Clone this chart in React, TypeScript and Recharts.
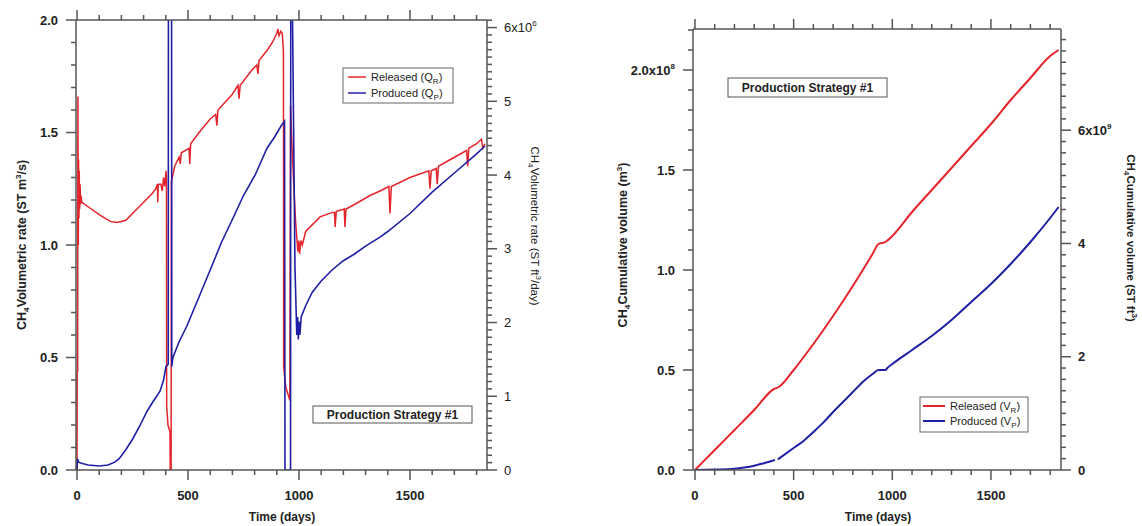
import React from "react";
import { LineChart, Line, XAxis, YAxis } from "recharts";

// ---- left panel: volumetric rate (m^3/s) ----
const rateReleased: [number, number][] = [
  [0, 0], [1, 0.44], [3, 0.44], [4, 1.66], [6, 1.0], [7, 1.38], [9, 1.12], [10, 1.33], [12, 1.16],
  [14, 1.27], [16, 1.18], [18, 1.22], [22, 1.19], [50, 1.17], [100, 1.135], [150, 1.105], [180, 1.1],
  [220, 1.11], [260, 1.15], [300, 1.19], [340, 1.23], [355, 1.25], [362, 1.27], [364, 1.19], [366, 1.27],
  [378, 1.27], [384, 1.24], [390, 1.3], [395, 1.26], [401, 1.33], [403, 1.3], [404, 0.28], [410, 0.2],
  [419, 0.17], [420, 0], [424, 0], [425, 1.28], [440, 1.35], [460, 1.39], [465, 1.36], [470, 1.41],
  [505, 1.43], [508, 1.36], [512, 1.45], [550, 1.5], [600, 1.56], [625, 1.58], [630, 1.53], [635, 1.6],
  [700, 1.67], [725, 1.71], [730, 1.65], [735, 1.71], [790, 1.78], [810, 1.8], [815, 1.76], [820, 1.82],
  [860, 1.87], [880, 1.9], [900, 1.94], [905, 1.96], [910, 1.93], [918, 1.95], [925, 1.94], [930, 1.86],
  [931, 0.46], [940, 0.37], [959, 0.31], [962, 1.62], [970, 1.4], [985, 1.1], [995, 0.97], [999, 1.02],
  [1003, 0.96], [1008, 1.02], [1015, 1.0], [1030, 1.06], [1095, 1.125], [1150, 1.145], [1160, 1.145],
  [1163, 1.08], [1168, 1.15], [1204, 1.16], [1207, 1.08], [1212, 1.16], [1250, 1.18], [1320, 1.22],
  [1365, 1.24], [1405, 1.26], [1410, 1.14], [1416, 1.26], [1500, 1.3], [1585, 1.33], [1590, 1.25],
  [1596, 1.33], [1618, 1.34], [1623, 1.27], [1628, 1.35], [1700, 1.39], [1755, 1.42], [1760, 1.35],
  [1765, 1.43], [1800, 1.45], [1822, 1.47], [1828, 1.43], [1838, 1.45],
];

const rateProduced: [number, number][] = [
  [0, 0], [2, 0.05], [8, 0.035], [20, 0.03], [50, 0.022], [100, 0.018], [140, 0.022], [170, 0.035],
  [190, 0.05], [220, 0.09], [252, 0.14], [285, 0.2], [315, 0.26], [340, 0.3], [374, 0.35], [390, 0.4],
  [401, 0.46], [411, 0.47], [412, 2.3], [426, 2.3], [427, 0.46], [432, 0.5], [460, 0.57], [495, 0.64],
  [550, 0.77], [613, 0.92], [650, 1.01], [703, 1.12], [750, 1.22], [802, 1.31], [856, 1.43], [890, 1.48],
  [920, 1.53], [935, 1.55], [937, 0], [962, 0], [963, 2.3], [968, 2.3], [971, 2.0], [982, 0.9],
  [990, 0.6], [994, 0.68], [997, 0.58], [1000, 0.66], [1004, 0.6], [1010, 0.68], [1030, 0.73],
  [1060, 0.79], [1100, 0.84], [1150, 0.89], [1200, 0.93], [1250, 0.96], [1300, 0.995], [1365, 1.035],
  [1400, 1.06], [1500, 1.14], [1600, 1.235], [1700, 1.32], [1800, 1.405], [1838, 1.44],
];

// ---- right panel: cumulative volume (x10^8 m^3) ----
const cumReleased: [number, number][] = [
  [0, 0], [100, 0.1], [200, 0.2], [300, 0.3], [400, 0.405], [425, 0.415], [500, 0.5], [600, 0.63],
  [700, 0.77], [800, 0.92], [900, 1.08], [930, 1.13], [965, 1.14], [1000, 1.17], [1100, 1.29],
  [1200, 1.4], [1300, 1.51], [1400, 1.62], [1500, 1.73], [1600, 1.85], [1700, 1.96], [1800, 2.07],
  [1843, 2.1],
];

const cumProduced: [number, number | null][] = [
  [0, 0], [100, 0.002], [200, 0.006], [250, 0.012], [300, 0.021], [350, 0.034], [405, 0.05],
  [412, null], [420, 0.053], [500, 0.11], [550, 0.145], [600, 0.19], [650, 0.237], [700, 0.29],
  [750, 0.34], [800, 0.39], [850, 0.44], [900, 0.48], [930, 0.5], [965, 0.5], [975, 0.51],
  [1000, 0.53], [1100, 0.6], [1200, 0.67], [1300, 0.75], [1400, 0.84], [1500, 0.93], [1600, 1.03],
  [1700, 1.14], [1800, 1.26], [1843, 1.315],
];

const timeMajor = [0, 500, 1000, 1500];
const rateMajor = [0, 0.5, 1.0, 1.5, 2.0];
const rateFtMajor = [0, 1, 2, 3, 4, 5, 6];
const cumMajor = [0, 0.5, 1.0, 1.5, 2.0];
const cumFtMajor = [0, 2, 4, 6];

const FONT = "'Liberation Sans', Arial, Helvetica, sans-serif";
const AXIS = "#555";
const RED = "#e4242b";
const BLUE = "#1f1fa6";

const steps = (a: number, b: number, s: number) => {
  const out: number[] = [];
  for (let i = 0; a + i * s <= b + 1e-9; i++) out.push(+(a + i * s).toFixed(4));
  return out;
};

const toRows = (arr: [number, number | null][]) => arr.map(([t, v]) => ({ t, v }));

const sup = (base: string, p: string) => (
  <>
    {base}
    <tspan dy={-6} fontSize={8}>{p}</tspan>
  </>
);

type Side = "left" | "right" | "top" | "bottom";
// tickSize 0 / tickMargin 0 -> (x, y) is the point on the axis; mark drawn as a thin filled rect
const makeTick =
  (side: Side, majors: number[], fmt?: (v: number) => React.ReactNode, bold = true) =>
  (p: any) => {
    const ax = Number(p.x);
    const ay = Number(p.y);
    const v = Number(p.payload.value);
    const major = majors.some((m) => Math.abs(m - v) < 1e-6);
    const len = major ? 10 : 5;
    const w = 1.5;
    let rx = ax, ry = ay, rw = w, rh = w;
    if (side === "left") { rx = ax - len; ry = ay - w / 2; rw = len; }
    if (side === "right") { rx = ax; ry = ay - w / 2; rw = len; }
    if (side === "bottom") { rx = ax - w / 2; ry = ay; rh = len; }
    if (side === "top") { rx = ax - w / 2; ry = ay - len; rh = len; }
    let tx = ax, ty = ay, anchor = "middle";
    if (side === "left") { tx = ax - 18; ty = ay + 4.5; anchor = "end"; }
    if (side === "right") { tx = ax + 17; ty = ay + 4.5; anchor = "start"; }
    if (side === "bottom") { ty = ay + 30; }
    const label = major && fmt ? fmt(v) : null;
    return (
      <g>
        <rect x={rx} y={ry} width={rw} height={rh} fill={AXIS} stroke="none" />
        {label != null && (
          <text x={tx} y={ty} textAnchor={anchor as any} fontFamily={FONT} fontSize={13}
            fontWeight={bold ? 700 : 400} fill="#222" stroke="none">
            {label}
          </text>
        )}
      </g>
    );
  };

const axisLine = { stroke: AXIS, strokeWidth: 1.5 };

const LeftPanel = () => (
  <LineChart width={560} height={526} margin={{ top: 10, right: 0, bottom: 0, left: 0 }}
    style={{ position: "absolute", left: 0, top: 0 }}>
    <XAxis xAxisId="b" dataKey="t" type="number" domain={[-4.5, 1847]} allowDataOverflow
      ticks={steps(0, 1800, 100)} interval={0} height={56} tickSize={0} tickMargin={0}
      axisLine={axisLine} tickLine={false} tick={makeTick("bottom", timeMajor, (v) => String(v))} />
    <XAxis xAxisId="t" orientation="top" dataKey="t" type="number" domain={[-4.5, 1847]} allowDataOverflow
      ticks={steps(0, 1800, 100)} interval={0} height={10} tickSize={0} tickMargin={0}
      axisLine={axisLine} tickLine={false} tick={makeTick("top", timeMajor)} />
    <YAxis yAxisId="l" type="number" domain={[0, 2]} allowDataOverflow ticks={steps(0, 2, 0.1)}
      interval={0} width={76} tickSize={0} tickMargin={0} axisLine={axisLine} tickLine={false}
      tick={makeTick("left", rateMajor, (v) => v.toFixed(1))} />
    <YAxis yAxisId="r" orientation="right" type="number" domain={[0, 6.1025]} allowDataOverflow
      ticks={steps(0, 6.1, 0.1)} interval={0} width={73} tickSize={0} tickMargin={0}
      axisLine={axisLine} tickLine={false}
      tick={makeTick("right", rateFtMajor, (v) => (v === 6 ? sup("6x10", "6") : String(v)), false)} />
    <Line xAxisId="b" yAxisId="l" data={toRows(rateReleased)} dataKey="v" type="linear" stroke={RED}
      strokeWidth={1.5} dot={false} isAnimationActive={false} />
    <Line xAxisId="b" yAxisId="l" data={toRows(rateProduced)} dataKey="v" type="linear" stroke={BLUE}
      strokeWidth={1.6} dot={false} isAnimationActive={false} />
  </LineChart>
);

const RightPanel = () => (
  <LineChart width={562} height={526} margin={{ top: 19, right: 0, bottom: 0, left: 0 }}
    style={{ position: "absolute", left: 580, top: 0 }}>
    <XAxis xAxisId="b" dataKey="t" type="number" domain={[-10, 1855]} allowDataOverflow
      ticks={steps(0, 1800, 100)} interval={0} height={56} tickSize={0} tickMargin={0}
      axisLine={axisLine} tickLine={false} tick={makeTick("bottom", timeMajor, (v) => String(v))} />
    <XAxis xAxisId="t" orientation="top" dataKey="t" type="number" domain={[-10, 1855]} allowDataOverflow
      ticks={steps(0, 1800, 100)} interval={0} height={10} tickSize={0} tickMargin={0}
      axisLine={axisLine} tickLine={false} tick={makeTick("top", timeMajor)} />
    <YAxis yAxisId="l" type="number" domain={[0, 2.205]} allowDataOverflow ticks={steps(0, 2.2, 0.1)}
      interval={0} width={113} tickSize={0} tickMargin={0} axisLine={axisLine} tickLine={false}
      tick={makeTick("left", cumMajor, (v) => (v === 2 ? sup("2.0x10", "8") : v.toFixed(1)))} />
    <YAxis yAxisId="r" orientation="right" type="number" domain={[0, 7.787]} allowDataOverflow
      ticks={steps(0, 7.6, 0.2)} interval={0} width={81} tickSize={0} tickMargin={0}
      axisLine={axisLine} tickLine={false}
      tick={makeTick("right", cumFtMajor, (v) => (v === 6 ? sup("6x10", "9") : String(v)))} />
    <Line xAxisId="b" yAxisId="l" data={toRows(cumReleased)} dataKey="v" type="monotone" stroke={RED}
      strokeWidth={2} dot={false} isAnimationActive={false} />
    <Line xAxisId="b" yAxisId="l" data={toRows(cumProduced)} dataKey="v" type="monotone" stroke={BLUE}
      strokeWidth={2} dot={false} connectNulls={false} isAnimationActive={false} />
  </LineChart>
);

const Sub = ({ s }: { s: string }) => (
  <>
    <tspan dy={3} fontSize={8}>{s}</tspan>
    <tspan dy={-3} fontSize={1}> </tspan>
  </>
);

// titles, legends and annotation boxes; drawn underneath the (transparent) chart surfaces
const Overlay = () => (
  <svg width={1142} height={526} style={{ position: "absolute", left: 0, top: 0 }}
    fontFamily={FONT} fill="#222">
    <text transform="translate(26,245) rotate(-90)" textAnchor="middle" fontSize={12.5} fontWeight={700}>
      CH<Sub s="4" /> Volumetric rate (ST m<tspan dy={-5} fontSize={8}>3</tspan><tspan dy={5}>/s)</tspan>
    </text>
    <text transform="translate(531,226) rotate(90)" textAnchor="middle" fontSize={11.5} fontWeight={400}>
      CH<Sub s="4" /> Volumetric rate  (ST ft<tspan dy={-5} fontSize={8}>3</tspan><tspan dy={5}>/day)</tspan>
    </text>
    <text x={282} y={521} textAnchor="middle" fontSize={12} fontWeight={700}>Time (days)</text>

    <text transform="translate(627,245) rotate(-90)" textAnchor="middle" fontSize={12.5} fontWeight={700}>
      CH<Sub s="4" /> Cumulative volume (m<tspan dy={-5} fontSize={8}>3</tspan><tspan dy={5}>)</tspan>
    </text>
    <text transform="translate(1127,238) rotate(90)" textAnchor="middle" fontSize={11.5} fontWeight={700}>
      CH<Sub s="4" /> Cumulative volume (ST ft<tspan dy={-5} fontSize={8}>3</tspan><tspan dy={5}>)</tspan>
    </text>
    <text x={878} y={521} textAnchor="middle" fontSize={12} fontWeight={700}>Time (days)</text>

    <rect x={343} y={68} width={110} height={35} fill="#fff" stroke="#666" />
    <line x1={348} x2={366} y1={77} y2={77} stroke={RED} strokeWidth={1.5} />
    <line x1={348} x2={366} y1={93} y2={93} stroke={BLUE} strokeWidth={1.5} />
    <text x={371} y={81} fontSize={11}>Released (Q<Sub s="R" />)</text>
    <text x={371} y={97} fontSize={11}>Produced (Q<Sub s="P" />)</text>

    <rect x={313} y={406} width={159} height={17} fill="#fff" stroke="#555" />
    <text x={392.5} y={419} textAnchor="middle" fontSize={12} fontWeight={700}>Production Strategy #1</text>

    <rect x={728} y={78} width={159} height={19} fill="#fff" stroke="#555" />
    <text x={807.5} y={92} textAnchor="middle" fontSize={12} fontWeight={700}>Production Strategy #1</text>

    <rect x={920} y={397} width={108} height={35} fill="#fff" stroke="#666" />
    <line x1={923} x2={945} y1={406} y2={406} stroke={RED} strokeWidth={2} />
    <line x1={923} x2={945} y1={421} y2={421} stroke={BLUE} strokeWidth={2} />
    <text x={950} y={410} fontSize={11}>Released (V<Sub s="R" />)</text>
    <text x={950} y={425} fontSize={11}>Produced (V<Sub s="P" />)</text>
  </svg>
);

export default function App() {
  return (
    <div style={{ position: "absolute", left: 0, top: 0, width: 1142, height: 526, background: "#fff" }}>
      <Overlay />
      <LeftPanel />
      <RightPanel />
    </div>
  );
}
